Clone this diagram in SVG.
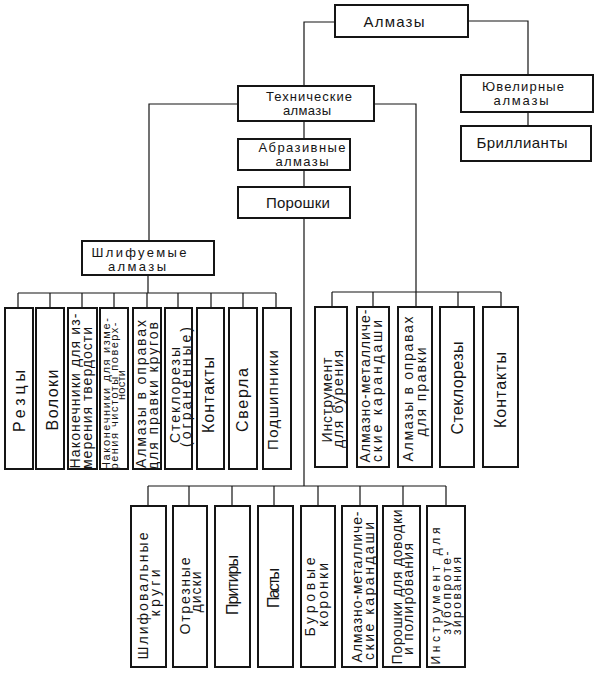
<svg xmlns="http://www.w3.org/2000/svg" width="604" height="678" viewBox="0 0 604 678">
<style>
.box{fill:#fff;stroke:#151515;stroke-width:2}
.ln{fill:none;stroke:#151515;stroke-width:1.2}
text{font-family:"Liberation Sans",Arial,sans-serif;fill:#151515;text-anchor:middle}
.s{font-size:15px}
.v{font-size:16px}
.h2{font-size:13px}
.d{font-size:14px}
.t{font-size:11px}
.u{font-size:12px}
</style>
<rect width="604" height="678" fill="#fff"/>
<g id="connectors">
<path class="ln" d="M335,22H304V86 M468,21H528V75 M528,112V126 M304,121V139 M304,170V187 M238,104H149V241 M374,104H416V307 M148,275V293 M18,293H276 M18,293V308 M50,293V308 M82,293V308 M114,293V308 M147,293V308 M178,293V308 M211,293V308 M243,293V308 M276,293V308 M332,292H501 M332,292V307 M373,292V307 M458,292V307 M501,292V307 M304,218V486 M148,486H446 M148,486V506 M189,486V506 M232,486V506 M274,486V506 M318,486V506 M360,486V506 M403,486V506 M446,486V506"/>
</g>
<g id="n-almazy"><rect class="box" x="335" y="5" width="133" height="32"/><text class="s" x="394" y="27" textLength="61">Алмазы</text></g>
<g id="n-tech"><rect class="box" x="238" y="86" width="136" height="35"/><text class="h2" x="309" y="101" textLength="86">Технические</text><text class="h2" x="307" y="115" textLength="48">алмазы</text></g>
<g id="n-juv"><rect class="box" x="461" y="75" width="132" height="37"/><text class="h2" x="523" y="91" textLength="82">Ювелирные</text><text class="h2" x="521" y="105" textLength="55">алмазы</text></g>
<g id="n-brill"><rect class="box" x="461" y="126" width="130" height="35"/><text class="s" x="522" y="148" textLength="91">Бриллианты</text></g>
<g id="n-abr"><rect class="box" x="238" y="139" width="112" height="31"/><text class="h2" x="302" y="152" textLength="87">Абразивные</text><text class="h2" x="302" y="166" textLength="53">алмазы</text></g>
<g id="n-por"><rect class="box" x="238" y="187" width="112" height="31"/><text class="s" x="298" y="208" textLength="64">Порошки</text></g>
<g id="n-shlif"><rect class="box" x="82" y="241" width="132" height="34"/><text class="h2" x="139" y="257" textLength="95">Шлифуемые</text><text class="h2" x="137" y="271" textLength="58">алмазы</text></g>

<g id="l1"><rect class="box" x="5" y="308" width="28" height="161"/><text class="v" transform="translate(25,401) rotate(-90)" textLength="62">Резцы</text></g>
<g id="l2"><rect class="box" x="36" y="308" width="28" height="161"/><text class="v" transform="translate(58,400) rotate(-90)" textLength="61">Волоки</text></g>
<g id="l3"><rect class="box" x="68" y="308" width="29" height="161"/><text class="d" transform="translate(80,391) rotate(-90)" textLength="155">Наконечники для из-</text><text class="d" transform="translate(92,398) rotate(-90)" textLength="142">мерения твердости</text></g>
<g id="l4"><rect class="box" x="100" y="308" width="28" height="161"/><text class="t" transform="translate(110,394) rotate(-90)" textLength="152">Наконечники для изме-</text><text class="t" transform="translate(118,396) rotate(-90)" textLength="147">рения чистоты поверх-</text><text class="t" transform="translate(125,385) rotate(-90)" textLength="30">ности</text></g>
<g id="l5"><rect class="box" x="133" y="308" width="28" height="161"/><text class="d" transform="translate(146,394) rotate(-90)" textLength="148">Алмазы в оправах</text><text class="d" transform="translate(158,396) rotate(-90)" textLength="148">для правки кругов</text></g>
<g id="l6"><rect class="box" x="165" y="308" width="27" height="161"/><text class="d" transform="translate(180,395) rotate(-90)" textLength="96">Стеклорезы</text><text class="d" transform="translate(191,387) rotate(-90)" textLength="120">(ограненные)</text></g>
<g id="l7"><rect class="box" x="197" y="308" width="27" height="161"/><text class="v" transform="translate(214,395) rotate(-90)" textLength="76">Контакты</text></g>
<g id="l8"><rect class="box" x="229" y="308" width="28" height="161"/><text class="v" transform="translate(248,400) rotate(-90)" textLength="64">Сверла</text></g>
<g id="l9"><rect class="box" x="263" y="308" width="28" height="161"/><text class="s" transform="translate(278,400) rotate(-90)" textLength="100">Подшипники</text></g>

<g id="r1"><rect class="box" x="315" y="307" width="32" height="160"/><text class="d" transform="translate(332,400) rotate(-90)" textLength="85">Инструмент</text><text class="d" transform="translate(343,399) rotate(-90)" textLength="98">для бурения</text></g>
<g id="r2"><rect class="box" x="357" y="307" width="32" height="160"/><text class="d" transform="translate(370,386) rotate(-90)" textLength="153">Алмазно-металличе-</text><text class="d" transform="translate(382,391) rotate(-90)" textLength="142">ские  карандаши</text></g>
<g id="r3"><rect class="box" x="398" y="307" width="34" height="160"/><text class="d" transform="translate(413,389) rotate(-90)" textLength="145">Алмазы в оправах</text><text class="d" transform="translate(426,392) rotate(-90)" textLength="89">для правки</text></g>
<g id="r4"><rect class="box" x="440" y="307" width="34" height="160"/><text class="v" transform="translate(463,388) rotate(-90)" textLength="93">Стеклорезы</text></g>
<g id="r5"><rect class="box" x="483" y="307" width="35" height="160"/><text class="v" transform="translate(506,390) rotate(-90)" textLength="76">Контакты</text></g>

<g id="b1"><rect class="box" x="131" y="506" width="35" height="161"/><text class="d" transform="translate(148,596) rotate(-90)" textLength="127">Шлифовальные</text><text class="d" transform="translate(160,593) rotate(-90)" textLength="47">круги</text></g>
<g id="b2"><rect class="box" x="173" y="506" width="34" height="161"/><text class="d" transform="translate(190,596) rotate(-90)" textLength="77">Отрезные</text><text class="d" transform="translate(201,592) rotate(-90)" textLength="41">диски</text></g>
<g id="b3"><rect class="box" x="215" y="506" width="35" height="161"/><text class="v" transform="translate(238,585) rotate(-90)" textLength="60">Притиры</text></g>
<g id="b4"><rect class="box" x="258" y="506" width="35" height="161"/><text class="v" transform="translate(279,588) rotate(-90)" textLength="40">Пасты</text></g>
<g id="b5"><rect class="box" x="301" y="506" width="34" height="161"/><text class="d" transform="translate(315,597) rotate(-90)" textLength="79">Буровые</text><text class="d" transform="translate(328,595) rotate(-90)" textLength="64">коронки</text></g>
<g id="b6"><rect class="box" x="342" y="506" width="35" height="161"/><text class="d" transform="translate(362,587) rotate(-90)" textLength="151">Алмазно-металличе-</text><text class="d" transform="translate(374,591) rotate(-90)" textLength="138">ские  карандаши</text></g>
<g id="b7"><rect class="box" x="383" y="506" width="37" height="161"/><text class="d" transform="translate(402,587) rotate(-90)" textLength="155">Порошки для доводки</text><text class="d" transform="translate(413,599) rotate(-90)" textLength="112">и полирования</text></g>
<g id="b8"><rect class="box" x="427" y="506" width="38" height="161"/><text class="u" transform="translate(440,596) rotate(-90)" textLength="137">Инструмент  для</text><text class="u" transform="translate(451,593) rotate(-90)" textLength="83">зубопроте-</text><text class="u" transform="translate(461,596) rotate(-90)" textLength="78">зирования</text></g>
</svg>
